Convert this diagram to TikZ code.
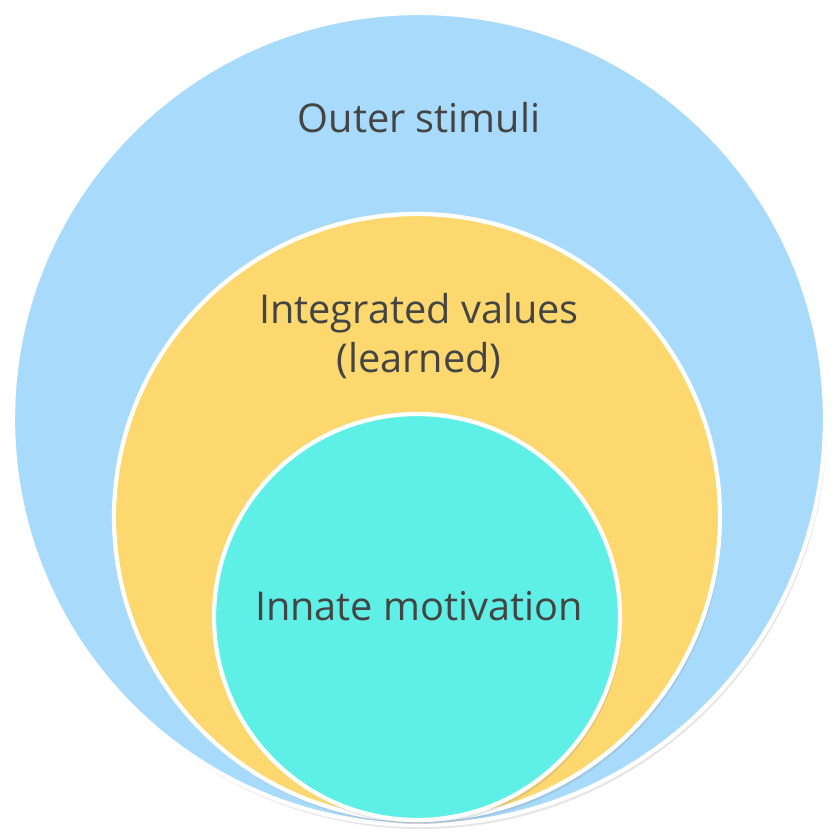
\documentclass[tikz,border=0pt]{standalone}
\usepackage{fontspec}
\setmainfont{Open Sans}
\usetikzlibrary{shadows}
\definecolor{outerblue}{HTML}{A8DBFB}
\definecolor{valyellow}{HTML}{FCD86E}
\definecolor{innatecyan}{HTML}{5EF0E6}
\definecolor{labelgray}{HTML}{444444}

\begin{document}
\begin{tikzpicture}[every node/.style={text=labelgray,font=\fontsize{11.3}{14}\selectfont},
ring/.style={circle,draw=white,line width=1.2pt,inner sep=0pt,drop shadow={opacity=0.2,shadow xshift=0.2mm,shadow yshift=-0.4mm}},
]
\useasboundingbox (0,0) rectangle (8.38,-8.38);
\node [ring,fill=outerblue,minimum size=8.12cm] (nOuter) at (4.19,-4.19) {};
\node [ring,fill=valyellow,minimum size=6.06cm] (nValues) at (4.17,-5.17) {};
\node [ring,fill=innatecyan,minimum size=4.06cm] (nInnate) at (4.17,-6.17) {};
\node (tOuter) at (4.19,-1.18) {Outer stimuli};
\node [align=center] (tValues) at (4.19,-3.36) {Integrated values\\(learned)};
\node (tInnate) at (4.19,-6.06) {Innate motivation};
\end{tikzpicture}
\end{document}
